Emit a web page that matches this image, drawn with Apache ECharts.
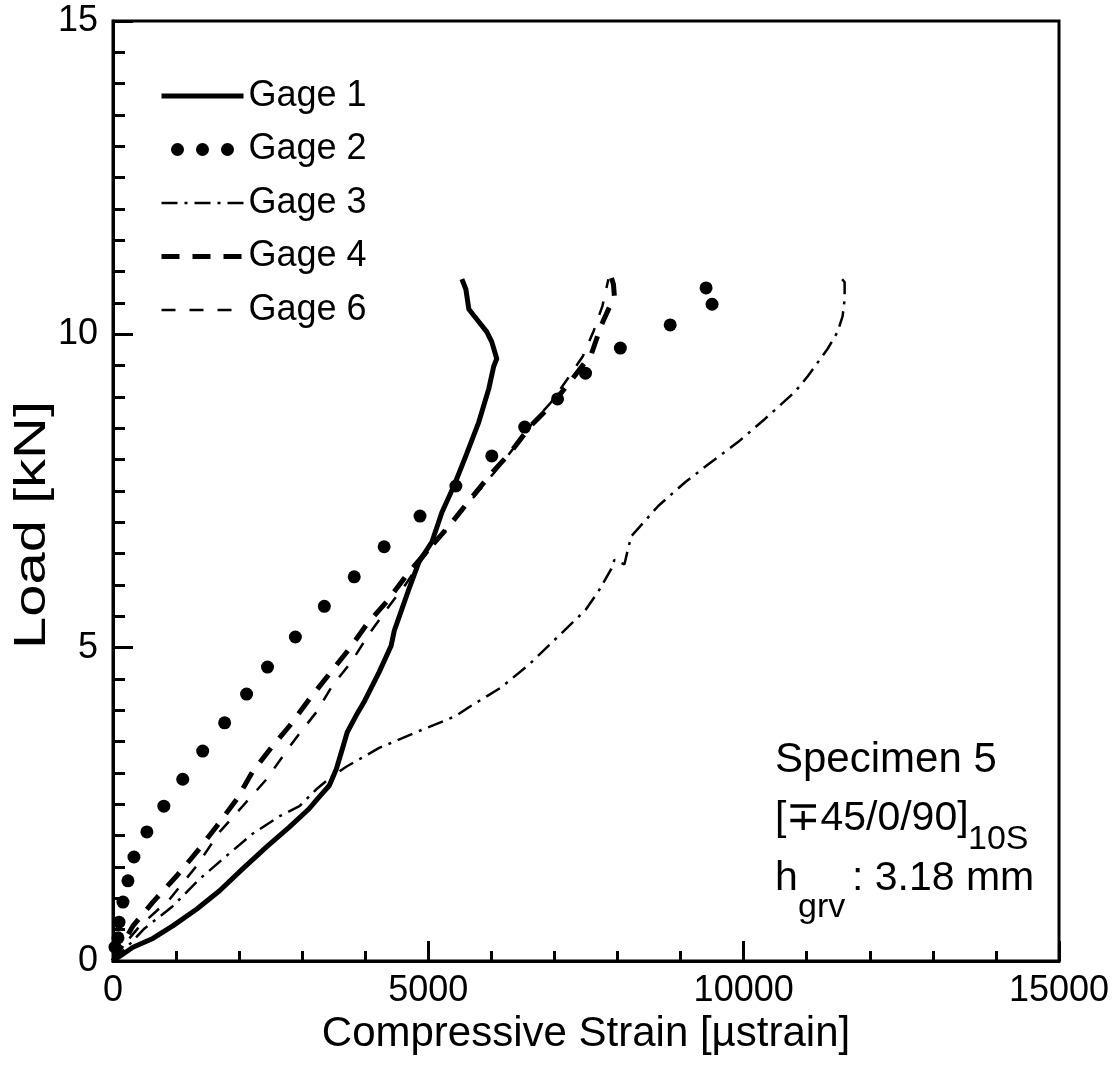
<!DOCTYPE html>
<html><head><meta charset="utf-8">
<script src="https://cdn.jsdelivr.net/npm/echarts@6/dist/echarts.min.js"></script>
<style>html,body{margin:0;padding:0;background:#fff}#c{width:1120px;height:1070px}</style>
</head><body><div id="c"></div>
<script>
// ---- data (compressive strain [µstrain], load [kN]) ----
const xTicks = [0, 5000, 10000, 15000];
const yTicks = [0, 5, 10, 15];
const seriesNames = ['Gage 1', 'Gage 2', 'Gage 3', 'Gage 4', 'Gage 6'];

const gage1 = [[0,0],[316,0.22],[632,0.36],[948,0.56],[1330,0.83],[1690,1.12],[2055,1.47],[2435,1.82],[2800,2.14],[3110,2.43],[3270,2.62],[3430,2.80],[3540,3.06],[3635,3.38],[3714,3.65],[3857,3.92],[3990,4.15],[4220,4.61],[4410,5.03],[4460,5.27],[4540,5.50],[4694,5.94],[4852,6.37],[5058,6.69],[5216,7.16],[5405,7.58],[5595,8.06],[5800,8.60],[5958,9.13],[6037,9.49],[6085,9.61],[6006,9.88],[5927,10.04],[5800,10.20],[5643,10.40],[5595,10.72],[5532,10.88]];

const gage2 = [[32,0.22],[79,0.37],[95,0.62],[158,0.94],[237,1.28],[332,1.66],[537,2.06],[806,2.47],[1106,2.90],[1422,3.35],[1770,3.80],[2118,4.26],[2450,4.69],[2892,5.17],[3351,5.66],[3825,6.13],[4299,6.61],[4868,7.10],[5437,7.58],[6006,8.06],[6528,8.52],[7049,8.97],[7492,9.38],[8045,9.78],[8835,10.15],[9404,10.74],[9499,10.48]];

const gage3 = [[0,0],[200,0.20],[500,0.52],[932,0.86],[1375,1.31],[1802,1.68],[2213,2.03],[2640,2.31],[2956,2.47],[3224,2.74],[3477,2.95],[3698,3.10],[4220,3.40],[4805,3.65],[5437,3.91],[5643,4.05],[6148,4.36],[6607,4.74],[7049,5.17],[7492,5.60],[7697,5.90],[7903,6.26],[7950,6.40],[8110,6.33],[8160,6.55],[8219,6.78],[8645,7.26],[9072,7.64],[9483,7.96],[9910,8.28],[10337,8.65],[10811,9.08],[11016,9.33],[11332,9.77],[11490,10.04],[11569,10.29],[11601,10.56],[11601,10.83],[11538,10.91]];

const gage4 = [[0,0],[111,0.19],[316,0.56],[632,0.94],[1012,1.36],[1328,1.74],[1644,2.15],[1960,2.58],[2213,3.02],[2529,3.43],[2798,3.75],[3114,4.18],[3430,4.58],[3746,4.98],[4030,5.38],[4346,5.74],[4694,6.21],[5326,6.94],[5643,7.34],[5990,7.77],[6306,8.12],[6622,8.54],[6939,8.86],[7255,9.25],[7587,9.69],[7745,10.15],[7950,10.61],[7935,10.80],[7900,10.91]];

const gage6 = [[0,0],[158,0.24],[427,0.56],[901,0.99],[1328,1.52],[1691,2.06],[2055,2.47],[2434,2.90],[2750,3.35],[2950,3.62],[3224,3.97],[3477,4.39],[3777,4.77],[4062,5.22],[4346,5.62],[4647,6.02],[4900,6.41],[5300,6.90],[5700,7.38],[6050,7.80],[6350,8.18],[6650,8.58],[6950,8.92],[7200,9.28],[7450,9.65],[7620,10.05],[7760,10.45],[7855,10.88]];

// ---- chart ----
const FONT = '"Liberation Sans", Arial, Helvetica, sans-serif';
const chart = echarts.init(document.getElementById('c'), null, {renderer: 'canvas'});
const dotsIcon = 'path://M2,6.5a6.5,6.5 0 1,0 13,0a6.5,6.5 0 1,0 -13,0M27,6.5a6.5,6.5 0 1,0 13,0a6.5,6.5 0 1,0 -13,0M52,6.5a6.5,6.5 0 1,0 13,0a6.5,6.5 0 1,0 -13,0';

const lineBase = {type: 'line', showSymbol: false, symbol: 'none', smooth: false, animation: false, z: 3};

chart.setOption({
  backgroundColor: '#fff',
  animation: false,
  grid: {left: 113, top: 21, right: 61, bottom: 109, show: true, borderColor: '#000', borderWidth: 3, backgroundColor: 'transparent'},
  legend: {
    orient: 'vertical', left: 159, top: 78, padding: 0, itemWidth: 82, itemHeight: 13, itemGap: 17.5,
    selectedMode: false,
    textStyle: {fontSize: 36, fontFamily: FONT, color: '#000'},
    itemStyle: {opacity: 0},
    data: [
      {name: seriesNames[0], lineStyle: {width: 5, type: 'solid', color: '#000'}},
      {name: seriesNames[1], icon: dotsIcon, itemStyle: {opacity: 1, color: '#000'}},
      {name: seriesNames[2], lineStyle: {width: 2.5, type: [16, 7, 3, 7], color: '#000'}},
      {name: seriesNames[3], lineStyle: {width: 5, type: [18, 13], color: '#000'}},
      {name: seriesNames[4], lineStyle: {width: 2.5, type: [14, 14], color: '#000'}}
    ]
  },
  xAxis: {
    type: 'value', min: xTicks[0], max: xTicks[xTicks.length - 1], interval: xTicks[1] - xTicks[0],
    name: 'Compressive Strain [µstrain]', nameLocation: 'middle', nameGap: 40,
    nameTextStyle: {fontSize: 42, fontFamily: FONT, color: '#000'},
    axisLine: {show: true, lineStyle: {color: '#000', width: 3}},
    axisTick: {show: true, inside: true, length: 20, lineStyle: {color: '#000', width: 3}},
    minorTick: {show: true, splitNumber: 5, length: 10, lineStyle: {color: '#000', width: 3}},
    splitLine: {show: false},
    axisLabel: {fontSize: 36, fontFamily: FONT, color: '#000', margin: 12, formatter: v => String(v)}
  },
  yAxis: {
    type: 'value', min: yTicks[0], max: yTicks[yTicks.length - 1], interval: yTicks[1] - yTicks[0],
    axisLine: {show: true, lineStyle: {color: '#000', width: 3}},
    axisTick: {show: true, inside: true, length: 20, lineStyle: {color: '#000', width: 3}},
    minorTick: {show: true, splitNumber: 10, length: 12, lineStyle: {color: '#000', width: 3}},
    splitLine: {show: false},
    axisLabel: {fontSize: 36, fontFamily: FONT, color: '#000', margin: 15, formatter: v => String(v)}
  },
  series: [
    Object.assign({}, lineBase, {name: seriesNames[0], data: gage1, lineStyle: {color: '#000', width: 5, type: 'solid', join: 'round'}, itemStyle: {color: '#000'}}),
    {type: 'scatter', name: seriesNames[1], data: gage2, symbol: 'circle', symbolSize: 13, itemStyle: {color: '#000', opacity: 1}, z: 4, animation: false},
    Object.assign({}, lineBase, {name: seriesNames[2], data: gage3, lineStyle: {color: '#000', width: 2.5, type: [16, 7, 3, 7]}, itemStyle: {color: '#000'}}),
    Object.assign({}, lineBase, {name: seriesNames[3], data: gage4, lineStyle: {color: '#000', width: 5, type: [18, 13]}, itemStyle: {color: '#000'}}),
    Object.assign({}, lineBase, {name: seriesNames[4], data: gage6, lineStyle: {color: '#000', width: 2.5, type: [14, 14]}, itemStyle: {color: '#000'}})
  ],
  graphic: [
    // y-axis title (stretched along its length as in the reference)
    {type: 'text', x: 33, y: 525, rotation: Math.PI / 2, scaleX: 1.38, scaleY: 1.05,
      style: {text: 'Load [kN]', font: '42px ' + FONT, fill: '#000', align: 'center', verticalAlign: 'middle', textAlign: 'center', textVerticalAlign: 'middle'}},
    {type: 'text', x: 775, y: 760, style: {text: 'Specimen 5', font: '42px ' + FONT, fill: '#000', verticalAlign: 'middle', textVerticalAlign: 'middle'}},
    {type: 'text', x: 775, y: 819, style: {text: '[∓45/0/90]', font: '41px ' + FONT, fill: '#000', verticalAlign: 'middle', textVerticalAlign: 'middle'}},
    {type: 'text', x: 968, y: 840, style: {text: '10S', font: '34px ' + FONT, fill: '#000', verticalAlign: 'middle', textVerticalAlign: 'middle'}},
    {type: 'text', x: 775, y: 879, style: {text: 'h', font: '41px ' + FONT, fill: '#000', verticalAlign: 'middle', textVerticalAlign: 'middle'}},
    {type: 'text', x: 798, y: 908, style: {text: 'grv', font: '34px ' + FONT, fill: '#000', verticalAlign: 'middle', textVerticalAlign: 'middle'}},
    {type: 'text', x: 852, y: 879, style: {text: ': 3.18 mm', font: '41px ' + FONT, fill: '#000', verticalAlign: 'middle', textVerticalAlign: 'middle'}}
  ]
});
</script>
</body></html>
